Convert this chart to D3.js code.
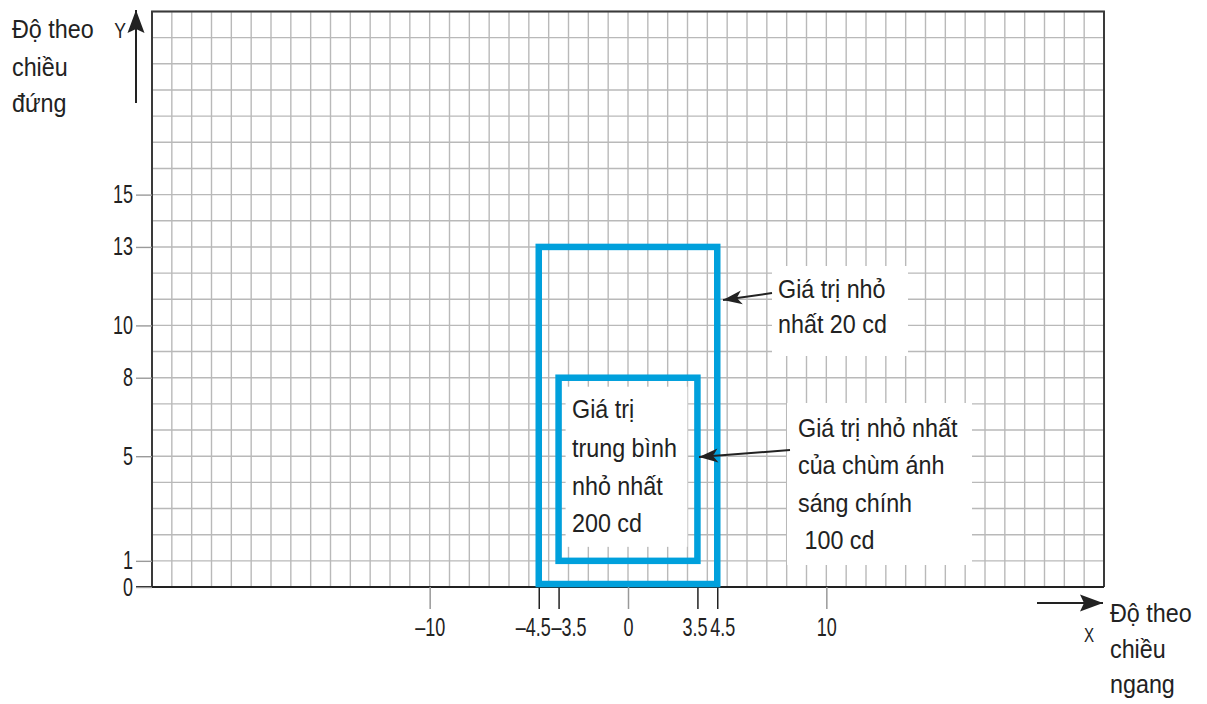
<!DOCTYPE html>
<html>
<head>
<meta charset="utf-8">
<script src="https://cdn.jsdelivr.net/npm/d3@7"></script>
<style>
  html, body { margin: 0; padding: 0; background: #fff; }
  svg { display: block; }
  .ann { font-family: "Liberation Sans", Arial, sans-serif; font-size: 26.5px; fill: #222; }
  .tick text { font-family: "Liberation Sans", Arial, sans-serif; font-size: 25px; fill: #222; }
</style>
</head>
<body>
<script>
// ---- data ----
const xDomain = [-24, 24];
const yDomain = [0, 22];
const xTickValues = [-10, -4.5, -3.5, 0, 3.5, 4.5, 10];
const yTickValues = [0, 1, 5, 8, 10, 13, 15];
// zones: [x0, x1, y0, y1]
const outerZone = [-4.5, 4.5, 0, 13];
const innerZone = [-3.5, 3.5, 1, 8];
const innerLabel = ["Giá trị", "trung bình", "nhỏ nhất", "200 cd"];
const outerNote = ["Giá trị nhỏ", "nhất 20 cd"];
const beamNote = ["Giá trị nhỏ nhất", "của chùm ánh", "sáng chính", " 100 cd"];
const yTitle = ["Độ theo", "chiều", "đứng"];
const xTitle = ["Độ theo", "chiều", "ngang"];

const W = 1207, H = 704;
const blue = "#00a0dc";
const SX = 0.88;   // text condensing
const TSX = 0.72;  // tick label condensing
const svg = d3.select("body").append("svg").attr("width", W).attr("height", H);

const x = d3.scaleLinear().domain(xDomain).range([152, 1104]);
const y = d3.scaleLinear().domain(yDomain).range([587, 11.5]);

// grid
const grid = svg.append("g").attr("stroke", "#b9b9b9").attr("stroke-width", 1.4);
grid.selectAll("line.v").data(d3.range(xDomain[0], xDomain[1] + 1)).join("line")
  .attr("x1", d => x(d)).attr("x2", d => x(d)).attr("y1", y(yDomain[1])).attr("y2", y(0));
grid.selectAll("line.h").data(d3.range(yDomain[0], yDomain[1] + 1)).join("line")
  .attr("y1", d => y(d)).attr("y2", d => y(d)).attr("x1", x(xDomain[0])).attr("x2", x(xDomain[1]));

// white boxes behind labels
const whites = [
  [772, 908, 266, 356],
  [787, 972, 403, 565],
  [x(innerZone[0]) + 7, x(innerZone[1]) - 10, y(innerZone[3]) + 9, y(innerZone[2]) - 14]
];
svg.append("g").selectAll("rect").data(whites).join("rect")
  .attr("x", d => d[0]).attr("y", d => d[2]).attr("width", d => d[1] - d[0]).attr("height", d => d[3] - d[2])
  .attr("fill", "#fff");

// border
svg.append("path")
  .attr("d", `M${x(xDomain[0])},${y(0)} V${y(yDomain[1])} H${x(xDomain[1])} V${y(0)}`)
  .attr("fill", "none").attr("stroke", "#3a3a3a").attr("stroke-width", 2);
svg.append("line").attr("x1", 136).attr("x2", x(xDomain[1])).attr("y1", y(0)).attr("y2", y(0))
  .attr("stroke", "#222").attr("stroke-width", 2);

// axes
const yAxis = svg.append("g").attr("transform", `translate(${x(xDomain[0])},0)`)
  .call(d3.axisLeft(y).tickValues(yTickValues).tickSize(16).tickPadding(4).tickFormat(d => d));
yAxis.select(".domain").remove();
yAxis.selectAll(".tick line").attr("stroke", "#9a9a9a").attr("stroke-width", 1.4);
yAxis.selectAll(".tick text").attr("x", -19 / TSX).attr("transform", `scale(${TSX},1)`);

const fmt = d => (d < 0 ? "–" : "") + Math.abs(d);
const nudge = d => d === -4.5 ? -6 : d === -3.5 ? 10 : d === 3.5 ? -3 : d === 4.5 ? 5 : 0;
const xAxis = svg.append("g").attr("transform", `translate(0,${y(0)})`)
  .call(d3.axisBottom(x).tickValues(xTickValues).tickSize(22).tickPadding(9).tickFormat(fmt));
xAxis.select(".domain").remove();
xAxis.selectAll(".tick line")
  .attr("stroke", d => (Math.abs(d) === 3.5 || Math.abs(d) === 4.5) ? "#222" : "#999")
  .attr("stroke-width", 1.5);
xAxis.selectAll(".tick text").attr("dy", "0.72em")
  .attr("x", d => nudge(d) / TSX)
  .attr("transform", `scale(${TSX},1)`);

// blue zones
svg.append("rect")
  .attr("x", x(outerZone[0])).attr("y", y(outerZone[3]))
  .attr("width", x(outerZone[1]) - x(outerZone[0]))
  .attr("height", y(outerZone[2]) - y(outerZone[3]) - 3)
  .attr("fill", "none").attr("stroke", blue).attr("stroke-width", 6.5);
svg.append("rect")
  .attr("x", x(innerZone[0])).attr("y", y(innerZone[3]))
  .attr("width", x(innerZone[1]) - x(innerZone[0]))
  .attr("height", y(innerZone[2]) - y(innerZone[3]))
  .attr("fill", "none").attr("stroke", blue).attr("stroke-width", 6.5);

// arrow markers
const defs = svg.append("defs");
defs.append("marker").attr("id", "ah").attr("viewBox", "0 -8 20 16").attr("refX", 0).attr("refY", 0)
  .attr("markerWidth", 20).attr("markerHeight", 16).attr("markerUnits", "userSpaceOnUse")
  .attr("orient", "auto")
  .append("path").attr("d", "M0,0 L19,-7 L14,0 L19,7 Z").attr("fill", "#222");
defs.append("marker").attr("id", "ahBig").attr("viewBox", "0 -10 24 20").attr("refX", 0).attr("refY", 0)
  .attr("markerWidth", 24).attr("markerHeight", 20).attr("markerUnits", "userSpaceOnUse")
  .attr("orient", "auto")
  .append("path").attr("d", "M0,0 L23,-8.5 L19,0 L23,8.5 Z").attr("fill", "#222");

function arrow(x1, y1, x2, y2, m) {
  svg.append("line").attr("x1", x1).attr("y1", y1).attr("x2", x2).attr("y2", y2)
    .attr("stroke", "#222").attr("stroke-width", 2).attr("marker-start", `url(#${m || "ah"})`);
}
// arrow tip first (x1,y1), tail second
arrow(723, 300, 772, 293);
arrow(699, 457, 790, 450);
arrow(136, 10, 136, 103, "ahBig");    // Y axis arrow
arrow(1103, 603, 1037, 603, "ahBig"); // X axis arrow

// text blocks (condensed)
function block(lines, x0, baselines) {
  const t = svg.append("text").attr("class", "ann")
    .attr("transform", `translate(${x0},0) scale(${SX},1)`);
  lines.forEach((s, i) => {
    t.append("tspan").attr("x", 0).attr("y", baselines[i]).text(s);
  });
}
svg.style("white-space", "pre");
block(innerLabel, 572, [418, 457, 495, 532]);
block(outerNote, 778, [298, 333]);
block(beamNote, 798, [437, 474, 512, 549]);
block(yTitle, 12, [38, 76, 112]);
block(xTitle, 1110, [622, 658, 693]);

svg.append("text").attr("transform", "translate(120,38) scale(0.8,1)").attr("text-anchor", "middle")
  .attr("font-family", "Liberation Sans, Arial, sans-serif").attr("font-size", 22).attr("fill", "#222").text("Y");
svg.append("text").attr("transform", "translate(1089,642) scale(0.72,1)").attr("text-anchor", "middle")
  .attr("font-family", "Liberation Sans, Arial, sans-serif").attr("font-size", 21).attr("fill", "#222").text("X");
</script>
</body>
</html>
